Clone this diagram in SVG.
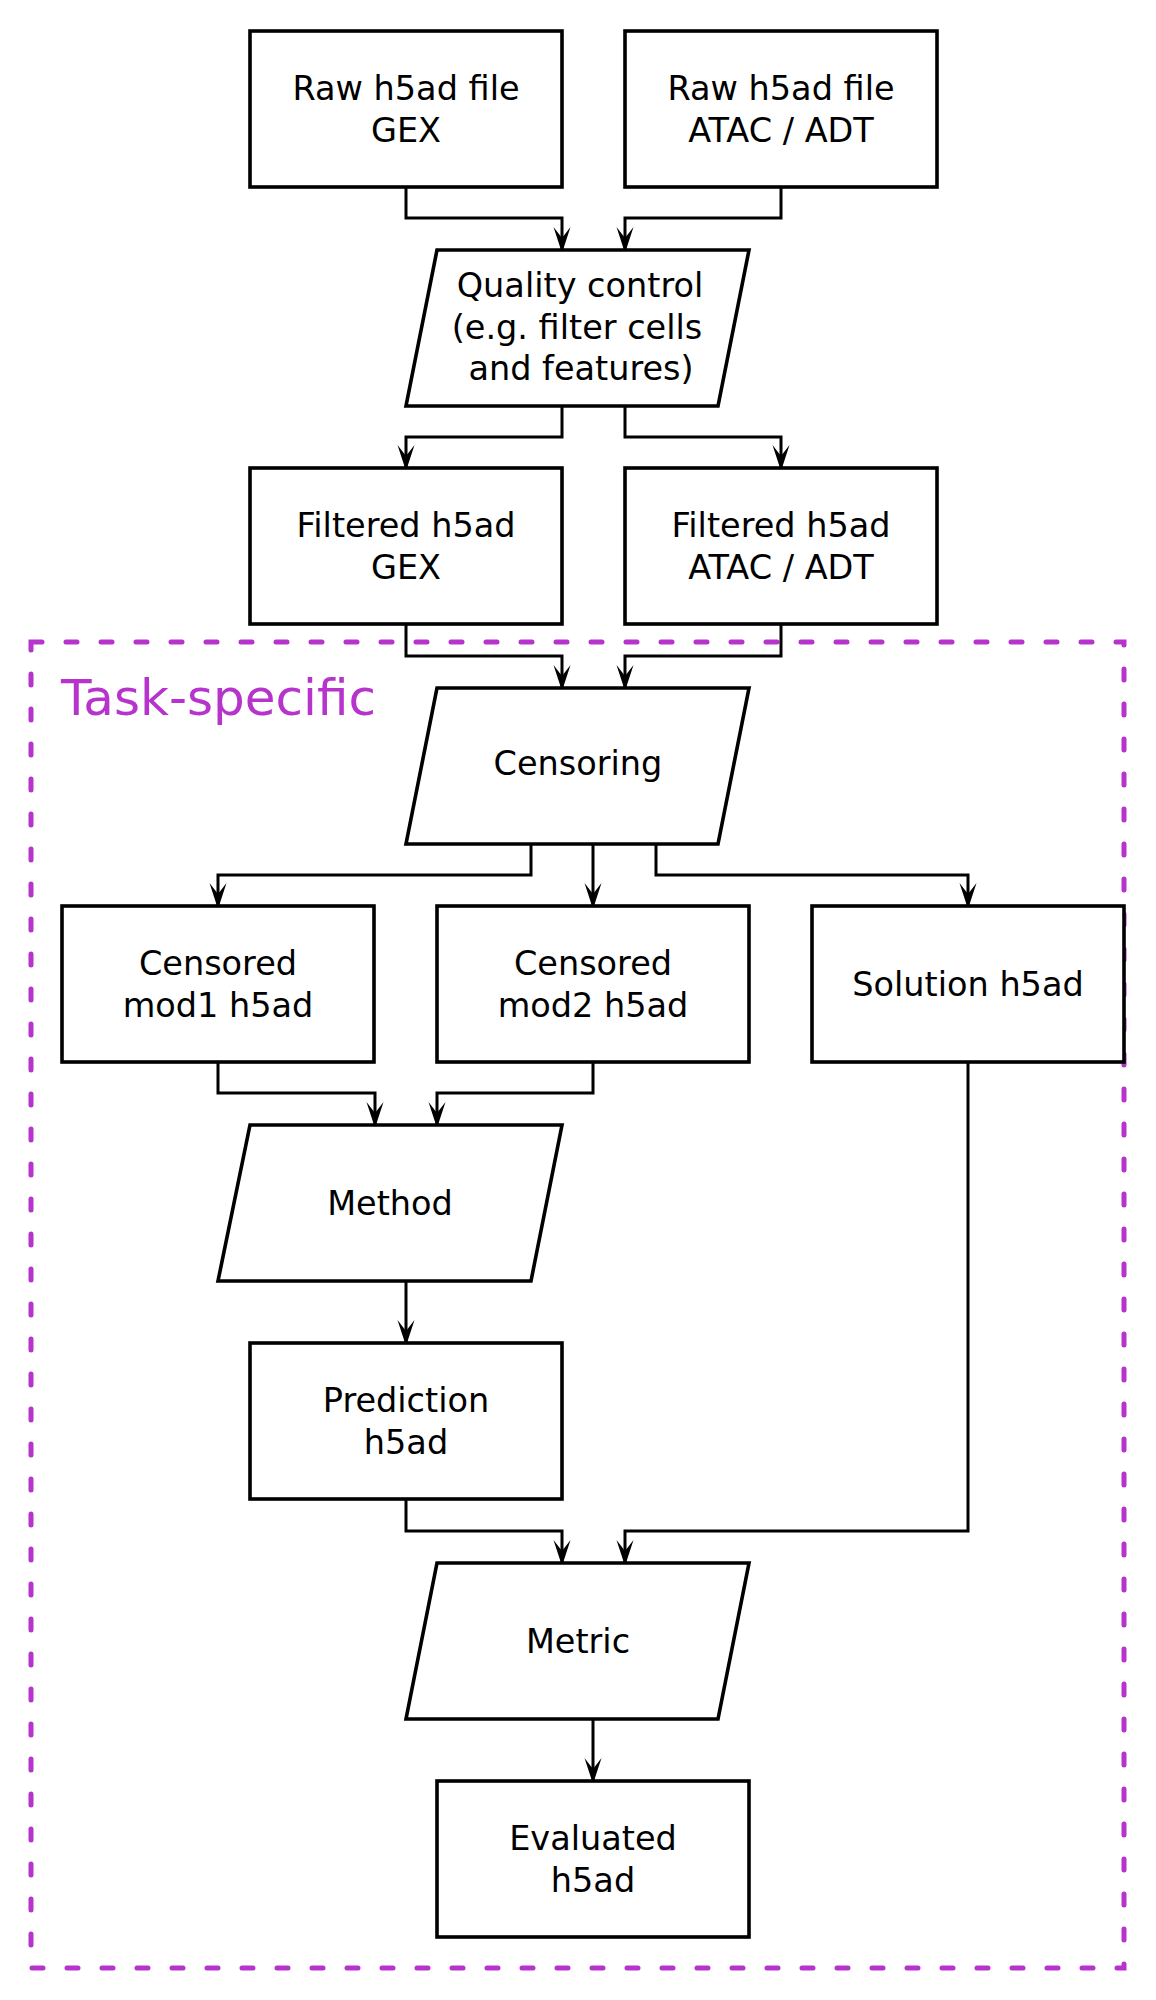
<svg xmlns="http://www.w3.org/2000/svg" width="1156" height="2000" viewBox="0 0 1156 2000">
<style>
.bg{fill:#ffffff}
.node{fill:#ffffff;stroke:#000000;stroke-width:3.6;stroke-linejoin:miter}
.edge{fill:none;stroke:#000000;stroke-width:3;stroke-linejoin:miter}
.lbl{font-family:"DejaVu Sans","Liberation Sans",sans-serif;font-size:33.5px;fill:#000000;text-anchor:middle}
.group{fill:none;stroke:#B634CC;stroke-width:5;stroke-dasharray:11 24;stroke-linecap:round}
.grouplbl{font-family:"DejaVu Sans","Liberation Sans",sans-serif;font-size:50px;fill:#B634CC}
</style>
<defs>
<marker id="arr" markerUnits="userSpaceOnUse" viewBox="-27 -9 28 18" markerWidth="28" markerHeight="18" refX="0" refY="0" orient="auto">
<path d="M0,0 L-26,-8.5 L-15,0 L-26,8.5 Z" fill="#000000"/>
</marker>
</defs>
<rect class="bg" x="0" y="0" width="1156" height="2000"/>
<g id="task-specific">
<rect class="group" x="31" y="642" width="1093" height="1326"/>
<text class="grouplbl" x="61" y="715">Task-specific</text>
</g>
<g id="connectors">
<path class="edge" marker-end="url(#arr)" d="M406,187 V218 H562 V253"/>
<path class="edge" marker-end="url(#arr)" d="M781,187 V218 H625 V253"/>
<path class="edge" marker-end="url(#arr)" d="M562,406 V437 H406 V471"/>
<path class="edge" marker-end="url(#arr)" d="M625,406 V437 H781 V471"/>
<path class="edge" marker-end="url(#arr)" d="M406,624 V656 H562 V691"/>
<path class="edge" marker-end="url(#arr)" d="M781,624 V656 H625 V691"/>
<path class="edge" marker-end="url(#arr)" d="M531,844 V875 H218 V909"/>
<path class="edge" marker-end="url(#arr)" d="M593,844 V909"/>
<path class="edge" marker-end="url(#arr)" d="M656,844 V875 H968 V909"/>
<path class="edge" marker-end="url(#arr)" d="M218,1062 V1093 H375 V1128"/>
<path class="edge" marker-end="url(#arr)" d="M593,1062 V1093 H437 V1128"/>
<path class="edge" marker-end="url(#arr)" d="M406,1281 V1346"/>
<path class="edge" marker-end="url(#arr)" d="M406,1499 V1531 H562 V1566"/>
<path class="edge" marker-end="url(#arr)" d="M968,1062 V1531 H625 V1566"/>
<path class="edge" marker-end="url(#arr)" d="M593,1719 V1784"/>
</g>
<g id="raw-gex">
<rect class="node" x="250" y="31" width="312" height="156"/>
<text class="lbl" x="406" y="100">Raw h5ad file</text>
<text class="lbl" x="406" y="142">GEX</text>
</g>
<g id="raw-atac">
<rect class="node" x="625" y="31" width="312" height="156"/>
<text class="lbl" x="781" y="100">Raw h5ad file</text>
<text class="lbl" x="781" y="142">ATAC / ADT</text>
</g>
<g id="quality-control">
<polygon class="node" points="437,250 749,250 718,406 406,406"/>
<text class="lbl" x="580" y="297">Quality control</text>
<text class="lbl" x="577" y="338.5">(e.g. filter cells</text>
<text class="lbl" x="581" y="380">and features)</text>
</g>
<g id="filtered-gex">
<rect class="node" x="250" y="468" width="312" height="156"/>
<text class="lbl" x="406" y="537">Filtered h5ad</text>
<text class="lbl" x="406" y="579">GEX</text>
</g>
<g id="filtered-atac">
<rect class="node" x="625" y="468" width="312" height="156"/>
<text class="lbl" x="781" y="537">Filtered h5ad</text>
<text class="lbl" x="781" y="579">ATAC / ADT</text>
</g>
<g id="censoring">
<polygon class="node" points="437,688 749,688 718,844 406,844"/>
<text class="lbl" x="578" y="775">Censoring</text>
</g>
<g id="censored-mod1">
<rect class="node" x="62" y="906" width="312" height="156"/>
<text class="lbl" x="218" y="975">Censored</text>
<text class="lbl" x="218" y="1017">mod1 h5ad</text>
</g>
<g id="censored-mod2">
<rect class="node" x="437" y="906" width="312" height="156"/>
<text class="lbl" x="593" y="975">Censored</text>
<text class="lbl" x="593" y="1017">mod2 h5ad</text>
</g>
<g id="solution">
<rect class="node" x="812" y="906" width="312" height="156"/>
<text class="lbl" x="968" y="996">Solution h5ad</text>
</g>
<g id="method">
<polygon class="node" points="250,1125 562,1125 531,1281 218,1281"/>
<text class="lbl" x="390" y="1215">Method</text>
</g>
<g id="prediction">
<rect class="node" x="250" y="1343" width="312" height="156"/>
<text class="lbl" x="406" y="1412">Prediction</text>
<text class="lbl" x="406" y="1454">h5ad</text>
</g>
<g id="metric">
<polygon class="node" points="437,1563 749,1563 718,1719 406,1719"/>
<text class="lbl" x="578" y="1653">Metric</text>
</g>
<g id="evaluated">
<rect class="node" x="437" y="1781" width="312" height="156"/>
<text class="lbl" x="593" y="1850">Evaluated</text>
<text class="lbl" x="593" y="1892">h5ad</text>
</g>
</svg>
